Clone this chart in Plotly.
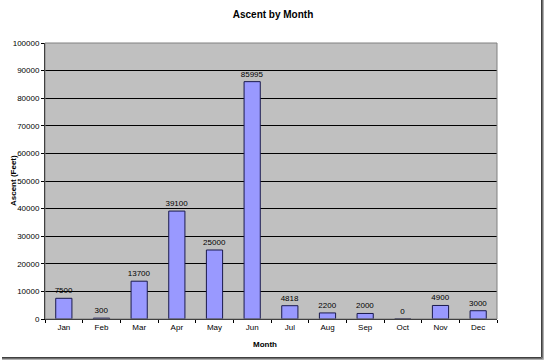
import plotly.graph_objects as go

months = ["Jan", "Feb", "Mar", "Apr", "May", "Jun", "Jul", "Aug", "Sep", "Oct", "Nov", "Dec"]
ascent = [7500, 300, 13700, 39100, 25000, 85995, 4818, 2200, 2000, 0, 4900, 3000]

L, R, T, B = 45, 49, 43, 43
W, H = 546, 362
pw, ph = W - L - R, H - T - B

def px_x(x):
    return (x - L) / pw

def px_y(y):
    return (H - B - y) / ph

fig = go.Figure()
fig.add_trace(go.Bar(
    x=months, y=ascent,
    marker=dict(color="#9999FF", line=dict(color="#1a1a4d", width=1)),
    text=[str(v) for v in ascent], textposition="outside",
    constraintext="none", textangle=0,
    textfont=dict(family="Arial, Liberation Sans", size=8, color="#000000"),
    cliponaxis=False,
))

shapes = []
# drop shadow frame (right and bottom)
for off, col in [(0, "#404040"), (1, "#707070"), (2, "#b0b0b0")]:
    shapes.append(dict(type="line", xref="paper", yref="paper",
                       x0=px_x(541.5 + off), x1=px_x(541.5 + off), y0=px_y(0), y1=px_y(357.5 + off),
                       line=dict(color=col, width=1)))
    shapes.append(dict(type="line", xref="paper", yref="paper",
                       x0=px_x(2), x1=px_x(541.5 + off), y0=px_y(357.5 + off), y1=px_y(357.5 + off),
                       line=dict(color=col, width=1)))
# plot area border
shapes.append(dict(type="rect", xref="paper", yref="paper", x0=0, x1=1, y0=0, y1=1,
                   line=dict(color="#808080", width=1), layer="above"))

annotations = [
    dict(text="<b>Ascent (Feet)</b>", xref="paper", yref="paper", x=px_x(13), y=px_y(181),
         textangle=-90, showarrow=False, xanchor="center", yanchor="middle", font=dict(size=8)),
    dict(text="<b>Month</b>", xref="paper", yref="paper", x=px_x(265), y=px_y(344),
         showarrow=False, xanchor="center", yanchor="middle", font=dict(size=8)),
]

fig.update_layout(
    width=W, height=H,
    margin=dict(l=L, r=R, t=T, b=B, autoexpand=False),
    paper_bgcolor="#FFFFFF",
    plot_bgcolor="#C0C0C0",
    font=dict(family="Arial, Liberation Sans", size=8, color="#000000"),
    title=dict(text="<b>Ascent by Month</b>", x=273 / W, xref="container", xanchor="center",
               y=1 - 14 / H, yref="container", yanchor="middle", font=dict(size=10)),
    showlegend=False,
    bargap=0.57,
    shapes=shapes,
    annotations=annotations,
    xaxis=dict(
        automargin=False,
        ticks="outside", tickson="boundaries", ticklen=3, tickcolor="#000000",
        showline=True, linecolor="#000000", linewidth=1,
        showgrid=False, tickfont=dict(size=8, color="#000000"),
    ),
    yaxis=dict(
        automargin=False,
        range=[0, 100000], dtick=10000, tickformat="d",
        ticks="outside", ticklen=3, tickcolor="#000000",
        showline=True, linecolor="#000000", linewidth=1,
        showgrid=True, gridcolor="#000000", gridwidth=1,
        zeroline=False, tickfont=dict(size=8, color="#000000"),
    ),
)

fig.write_html("out.html", config={"displayModeBar": False},
               post_script="document.body.style.margin='0';document.body.style.overflow='hidden';")
